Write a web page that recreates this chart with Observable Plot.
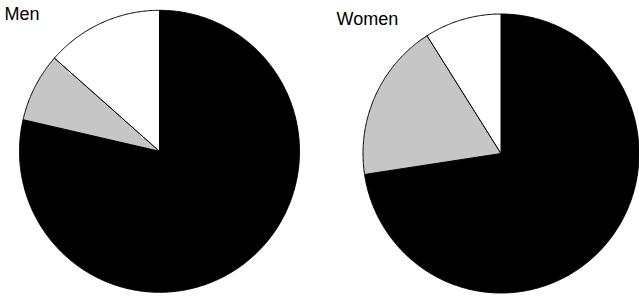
<!DOCTYPE html>
<html>
<head>
<meta charset="utf-8">
<script src="https://cdn.jsdelivr.net/npm/d3@7"></script>
<script src="https://cdn.jsdelivr.net/npm/@observablehq/plot@0.6"></script>
<style>
  html, body { margin: 0; padding: 0; background: #fff; }
  #chart { width: 639px; height: 297px; }
</style>
</head>
<body>
<div id="chart"></div>
<script>
// Data
const groups = ["Men", "Women"];
const categories = ["A", "B", "C"];
const menValues = [78.6, 7.9, 13.5];
const womenValues = [72.6, 18.4, 9.0];
const colors = ["#000000", "#c6c6c6", "#ffffff"];

// Layout (pixel space)
const layout = {
  Men:   {cx: 159,   cy: 150.8, rx: 140,   ry: 141,   tx: 4,   ty: 19},
  Women: {cx: 500.5, cy: 153,   rx: 138,   ry: 139.5, tx: 336, ty: 24}
};

const seriesByGroup = {Men: menValues, Women: womenValues};
const pts = [];
for (const g of groups) {
  const L = layout[g];
  const arcs = d3.pie().sort(null).value(d => d)(seriesByGroup[g]);
  arcs.forEach((a, i) => {
    const key = g + "-" + i;
    const cat = categories[i];
    pts.push({key, cat, x: L.cx, y: L.cy});
    const n = Math.max(2, Math.ceil((a.endAngle - a.startAngle) / (Math.PI / 360)));
    for (let k = 0; k <= n; k++) {
      const t = a.startAngle + (a.endAngle - a.startAngle) * k / n;
      pts.push({key, cat, x: L.cx + L.rx * Math.sin(t), y: L.cy - L.ry * Math.cos(t)});
    }
    pts.push({key, cat, x: L.cx, y: L.cy});
  });
}
const titles = groups.map(g => ({label: g, x: layout[g].tx, y: layout[g].ty}));

const chart = Plot.plot({
  width: 639,
  height: 297,
  margin: 0,
  x: {domain: [0, 639], range: [0, 639], axis: null},
  y: {domain: [0, 297], range: [0, 297], axis: null},
  color: {domain: categories, range: colors},
  style: {fontFamily: "'Liberation Sans', Arial, Helvetica, sans-serif", background: "#fff"},
  marks: [
    Plot.line(pts, {x: "x", y: "y", z: "key", fill: "cat", stroke: "#000", strokeWidth: 1, curve: "linear"}),
    Plot.text(titles, {x: "x", y: "y", text: "label", textAnchor: "start", lineAnchor: "bottom", fontSize: 18, fill: "#000"})
  ]
});
document.getElementById("chart").appendChild(chart);
</script>
</body>
</html>
